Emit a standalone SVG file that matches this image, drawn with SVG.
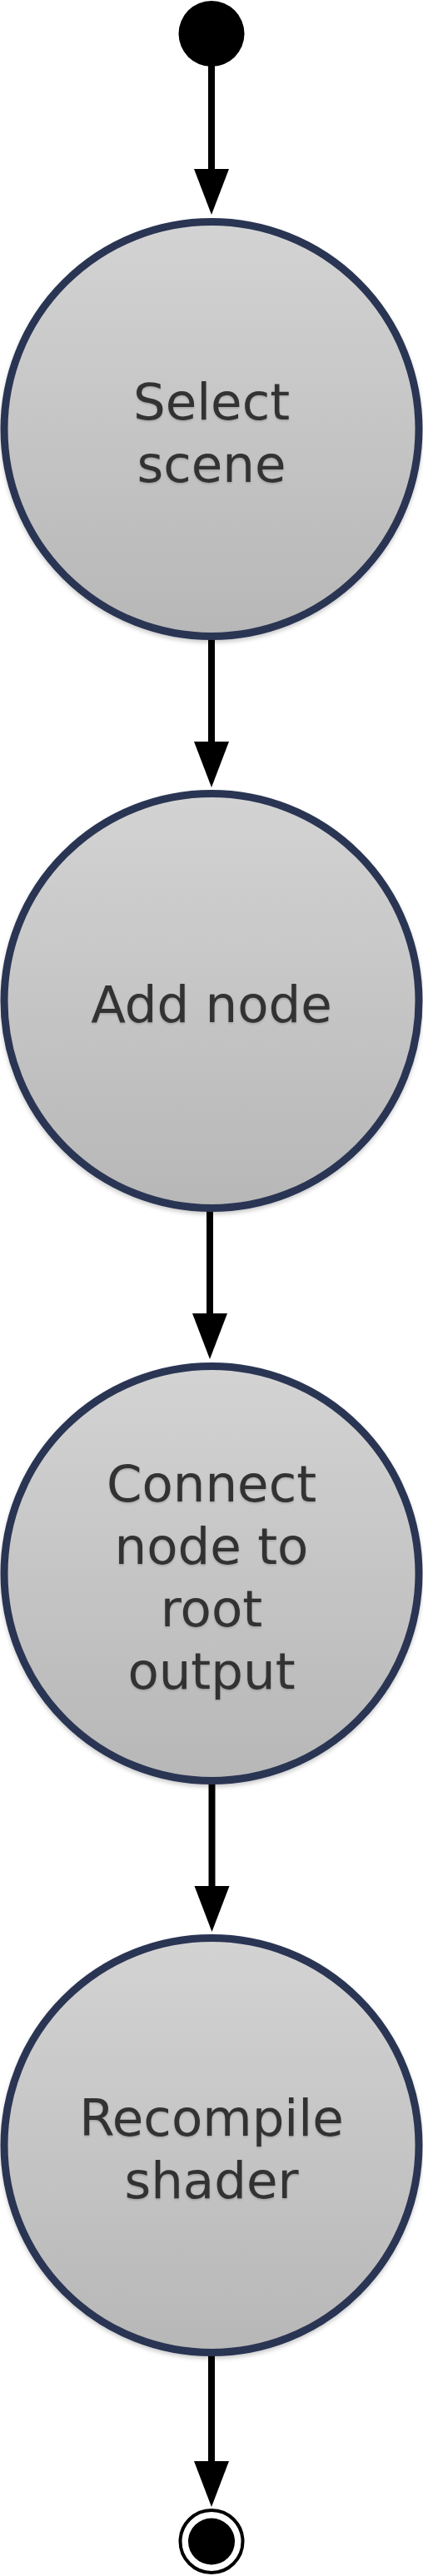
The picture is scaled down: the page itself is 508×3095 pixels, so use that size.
<svg xmlns="http://www.w3.org/2000/svg" width="508" height="3095" viewBox="0 0 508 3095">
  <style>
    .state { fill: url(#g); stroke: #2a3553; stroke-width: 9; filter: url(#sh); }
    .lbl { font-family: "DejaVu Sans", Verdana, sans-serif; font-size: 61px; fill: #333333; text-anchor: middle; filter: url(#tsh); }
    .conn { stroke: #000; stroke-width: 8; stroke-linecap: round; fill: none; marker-end: url(#ah); }
  </style>
  <defs>
    <linearGradient id="g" x1="0" y1="0" x2="0" y2="1">
      <stop offset="0" stop-color="#d3d3d3"/>
      <stop offset="1" stop-color="#b7b7b7"/>
    </linearGradient>
    <filter id="sh" x="-10%" y="-10%" width="120%" height="125%">
      <feDropShadow dx="0" dy="3" stdDeviation="2.5" flood-color="#000" flood-opacity="0.2"/>
    </filter>
    <filter id="tsh" x="-10%" y="-20%" width="120%" height="150%">
      <feDropShadow dx="0" dy="1.5" stdDeviation="1.2" flood-color="#000" flood-opacity="0.18"/>
    </filter>
    <marker id="ah" markerUnits="userSpaceOnUse" markerWidth="56" markerHeight="42" refX="1" refY="21" orient="auto" overflow="visible">
      <path d="M0,0 L55,21 L0,42 Z" fill="#000"/>
    </marker>
  </defs>

  <g id="connectors">
    <path class="conn" d="M254,80 L254,204"/>
    <path class="conn" d="M254,767 L254,892"/>
    <path class="conn" d="M252,1454 L252,1579"/>
    <path class="conn" d="M254.5,2143 L254.5,2267"/>
    <path class="conn" d="M254,2830 L254,2958"/>
  </g>

  <g id="start">
    <circle cx="254" cy="40.5" r="39.5" fill="#000"/>
  </g>

  <g id="select-scene">
    <circle class="state" cx="254" cy="515.5" r="249"/>
    <text class="lbl" x="254" y="503.5">Select</text>
    <text class="lbl" x="254" y="578.5">scene</text>
  </g>

  <g id="add-node">
    <circle class="state" cx="254" cy="1202.5" r="249"/>
    <text class="lbl" x="254" y="1228">Add node</text>
  </g>

  <g id="connect-node">
    <circle class="state" cx="254" cy="1890.5" r="249"/>
    <text class="lbl" x="254" y="1803.5">Connect</text>
    <text class="lbl" x="254" y="1878.5">node to</text>
    <text class="lbl" x="254" y="1953.5">root</text>
    <text class="lbl" x="254" y="2028.5">output</text>
  </g>

  <g id="recompile-shader">
    <circle class="state" cx="254" cy="2577.5" r="249"/>
    <text class="lbl" x="254" y="2565.5">Recompile</text>
    <text class="lbl" x="254" y="2640.5">shader</text>
  </g>

  <g id="end">
    <circle cx="254" cy="3053.5" r="37.5" fill="#fff" stroke="#000" stroke-width="4"/>
    <circle cx="254" cy="3053.5" r="28" fill="#000"/>
  </g>
</svg>
